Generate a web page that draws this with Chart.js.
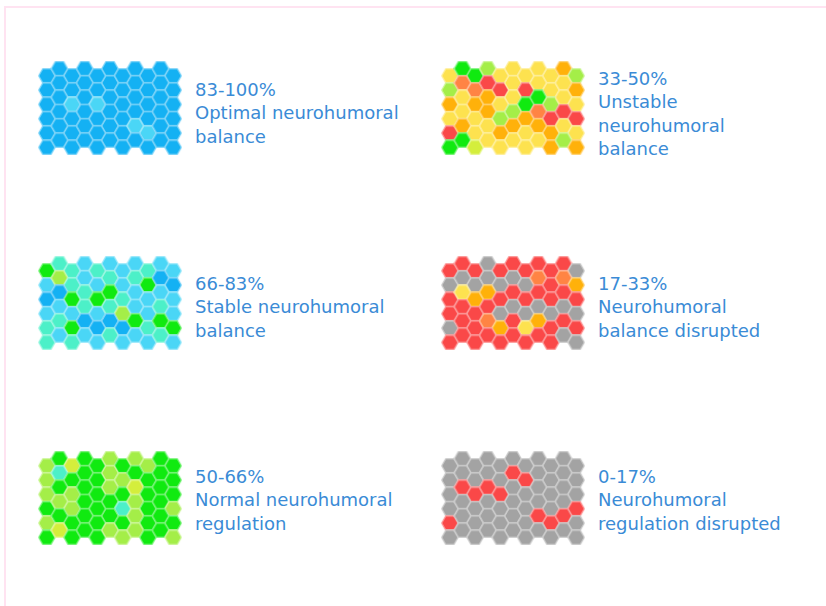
<!DOCTYPE html>
<html><head><meta charset="utf-8">
<script src="https://cdn.jsdelivr.net/npm/chart.js@4"></script>
<style>
html,body{margin:0;padding:0;background:#fff;width:826px;height:606px;overflow:hidden;}
#frame{position:absolute;left:4px;top:6px;width:900px;height:700px;border-left:2px solid #ffe3f1;border-top:2px solid #ffe3f1;}
canvas.hexgrid{position:absolute;}
.label{position:absolute;font-family:"DejaVu Sans",sans-serif;font-size:18px;line-height:23.5px;color:#3a8bd6;white-space:nowrap;}
</style></head><body>
<div id="frame"></div>
<script>
// Level scale: 0 gray, 1 red, 2 dark orange, 3 orange, 4 yellow, 5 yellow-lime,
// 6 lime, 7 green, 8 aquamarine, 9 light cyan, 10 blue
const levelColors = ['#a3a3a3','#fa4848','#ff8444','#ffb10a','#fde24f','#d4ee3c','#a4ee48','#10ea10','#4cf0c8','#4ad6f6','#14b1f3'];

// each grid: 6 rows x 11 columns (even columns sit half a row lower)
const optimalGrid = [
  [10,10,10,10,10,10,10,10,10,10,10],
  [10,10,10,10,10,10,10,10,10,10,10],
  [10,10,9,10,9,10,10,10,10,10,10],
  [10,10,10,10,10,10,10,10,10,10,10],
  [10,10,10,10,10,10,10,9,9,10,10],
  [10,10,10,10,10,10,10,10,10,10,10]
];
const unstableGrid = [
  [4,7,7,6,4,4,4,4,4,3,6],
  [6,2,2,1,1,4,1,4,4,4,3],
  [3,4,3,3,4,4,7,7,6,4,4],
  [4,4,4,3,6,6,3,2,1,1,1],
  [1,3,4,4,3,3,4,3,3,4,4],
  [7,7,5,4,4,4,4,4,3,6,3]
];
const stableGrid = [
  [7,8,8,9,8,9,9,9,8,9,9],
  [9,6,8,9,9,8,9,8,7,10,10],
  [10,10,7,8,7,7,8,9,9,9,9],
  [9,9,9,8,9,8,6,9,9,8,9],
  [8,8,7,10,10,10,10,7,8,7,7],
  [8,9,8,9,9,8,9,9,9,8,9]
];
const disruptedBalanceGrid = [
  [1,1,1,0,1,1,1,1,1,1,0],
  [0,0,0,0,0,0,0,2,1,2,3],
  [1,4,3,3,1,1,1,1,1,1,1],
  [1,1,1,1,0,0,0,0,0,0,0],
  [0,1,1,2,3,1,4,3,1,1,1],
  [1,1,1,1,1,1,1,1,1,0,0]
];
const normalGrid = [
  [6,7,5,7,7,6,7,6,6,7,7],
  [6,8,7,7,7,6,6,7,7,7,7],
  [6,7,6,7,7,6,7,5,7,7,7],
  [7,6,6,7,7,7,8,6,7,7,6],
  [6,7,7,7,7,7,7,6,7,7,7],
  [7,5,7,7,7,6,6,6,7,7,6]
];
const disruptedRegulationGrid = [
  [0,0,0,0,0,0,0,0,0,0,0],
  [0,0,0,0,0,1,1,0,0,0,0],
  [0,1,1,1,1,0,0,0,0,0,0],
  [0,0,0,0,0,0,0,0,0,0,1],
  [1,0,0,0,0,0,0,1,1,1,0],
  [0,0,0,0,0,0,0,0,0,0,0]
];

const panelGrids = [optimalGrid, unstableGrid, stableGrid, disruptedBalanceGrid, normalGrid, disruptedRegulationGrid];
const panelRanges = ['83-100%','33-50%','66-83%','17-33%','50-66%','0-17%'];
const panelTexts = [
  ['Optimal neurohumoral','balance'],
  ['Unstable','neurohumoral','balance'],
  ['Stable neurohumoral','balance'],
  ['Neurohumoral','balance disrupted'],
  ['Normal neurohumoral','regulation'],
  ['Neurohumoral','regulation disrupted']
];

// layout (pixels)
const panelLayout = [
  {gx:38, gy:60, tx:195, tcy:113},
  {gx:441, gy:60, tx:598, tcy:113.5},
  {gx:38, gy:255, tx:195, tcy:307},
  {gx:441, gy:255, tx:598, tcy:307},
  {gx:38, gy:450, tx:195, tcy:500},
  {gx:441, gy:450, tx:598, tcy:500}
];

function mix(hex, t){
  const n = parseInt(hex.slice(1),16);
  const r=(n>>16)&255, g=(n>>8)&255, b=n&255;
  const f=v=>Math.round(v+(255-v)*t);
  return 'rgb('+f(r)+','+f(g)+','+f(b)+')';
}
function makeHex(color){
  const cv=document.createElement('canvas'); cv.width=18; cv.height=16;
  const g=cv.getContext('2d'); const R=8.2, cx=9, cy=8;
  g.beginPath();
  for(let i=0;i<6;i++){const a=Math.PI/3*i; const px=cx+R*Math.cos(a), py=cy+R*Math.sin(a); if(i) g.lineTo(px,py); else g.moveTo(px,py);}
  g.closePath();
  g.fillStyle=color; g.fill();
  g.strokeStyle=mix(color,0.45); g.lineWidth=1.2; g.stroke();
  return cv;
}
const hexSprites = levelColors.map(makeHex);

panelGrids.forEach((grid, p) => {
  const L = panelLayout[p];
  const cv = document.createElement('canvas');
  cv.className='hexgrid'; cv.width=144; cv.height=96;
  cv.style.left=L.gx+'px'; cv.style.top=L.gy+'px';
  document.body.appendChild(cv);
  const pts=[], lv=[];
  grid.forEach((row,r)=>row.forEach((v,c)=>{pts.push({x:c, y:r+(c%2===0?0.5:0)}); lv.push(v);}));
  new Chart(cv, {
    type:'scatter',
    data:{datasets:[{
      data:pts,
      pointStyle:(ctx)=> ctx.dataIndex==null ? 'circle' : hexSprites[lv[ctx.dataIndex]],
      pointRadius:8, pointHoverRadius:8, borderWidth:0
    }]},
    options:{
      responsive:false, animation:false, events:[],
      layout:{padding:0, autoPadding:false},
      plugins:{legend:{display:false}, tooltip:{enabled:false}},
      scales:{
        x:{type:'linear', min:-0.7, max:10.7, display:false},
        y:{type:'linear', min:-0.6, max:6.1, reverse:true, display:false}
      }
    }
  });
  const lines=[panelRanges[p]].concat(panelTexts[p]);
  const d=document.createElement('div');
  d.className='label';
  d.style.left=L.tx+'px';
  d.style.top=(L.tcy - lines.length*23.5/2)+'px';
  lines.forEach(t=>{const s=document.createElement('div'); s.textContent=t; d.appendChild(s);});
  document.body.appendChild(d);
});
</script>
</body></html>
